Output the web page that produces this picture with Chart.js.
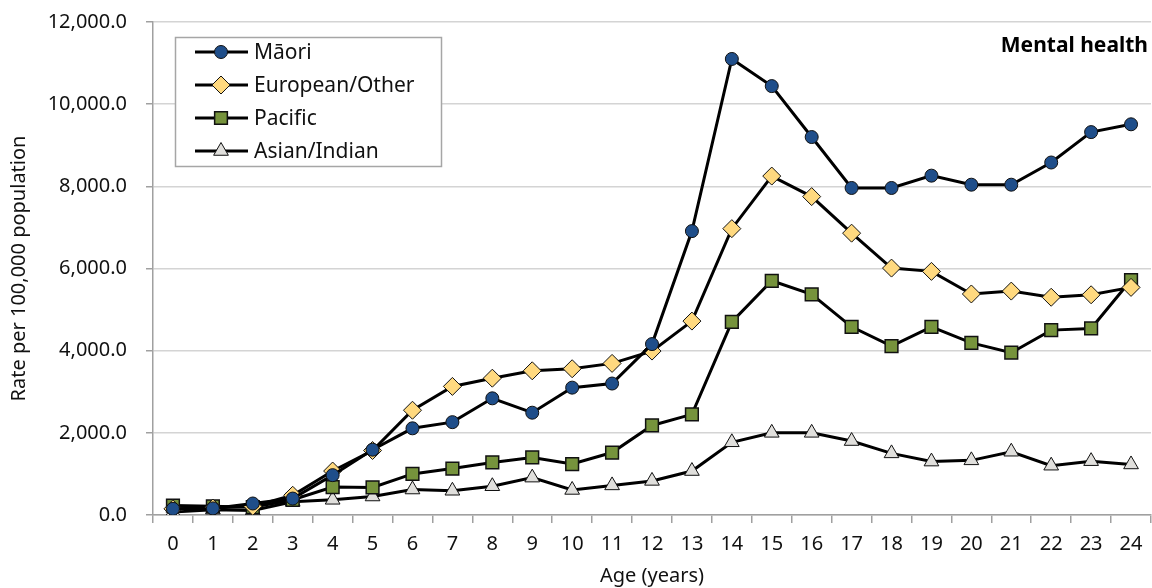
<!DOCTYPE html>
<html>
<head>
<meta charset="utf-8">
<script src="https://cdn.jsdelivr.net/npm/chart.js@4.4.1/dist/chart.umd.min.js"></script>
<style>
  html, body { margin: 0; padding: 0; background: #fff; }
  #wrap { width: 1152px; height: 588px; position: relative; }
</style>
</head>
<body>
<div id="wrap"><canvas id="mentalChart" width="1152" height="588"></canvas></div>
<script>
// ages along the x axis
const ages = ['0','1','2','3','4','5','6','7','8','9','10','11','12','13','14','15','16','17','18','19','20','21','22','23','24'];

// rates per 100,000 population
const maori    = [150, 160, 280, 400, 970, 1590, 2110, 2260, 2840, 2490, 3100, 3200, 4160, 6910, 11100, 10440, 9200, 7960, 7960, 8260, 8040, 8040, 8580, 9320, 9510];
const european = [150, 170, 210, 480, 1070, 1570, 2550, 3130, 3330, 3510, 3560, 3690, 3990, 4720, 6970, 8250, 7750, 6860, 6010, 5930, 5380, 5450, 5300, 5360, 5540];
const pacific  = [230, 210, 190, 370, 680, 670, 1000, 1130, 1280, 1400, 1240, 1520, 2180, 2450, 4700, 5700, 5370, 4580, 4110, 4580, 4190, 3950, 4500, 4540, 5720];
const asian    = [70, 130, 110, 320, 370, 450, 620, 590, 700, 910, 610, 720, 830, 1070, 1770, 2000, 2000, 1800, 1500, 1300, 1330, 1540, 1200, 1310, 1230];

const yTicks = [0, 2000, 4000, 6000, 8000, 10000, 12000];

const fontFamily = "'Noto Sans', 'Open Sans', sans-serif";

const datasets = [
    {
        label: 'Māori',
        data: maori,
        borderColor: '#000',
        borderWidth: 3,
        pointStyle: 'circle',
        pointRadius: 6.5,
        pointBackgroundColor: '#1f4e8a',
        pointBorderColor: '#111',
        pointBorderWidth: 1,
        tension: 0
    }, {
        label: 'European/Other',
        data: european,
        borderColor: '#000',
        borderWidth: 3,
        pointStyle: 'rectRot',
        pointRadius: 9,
        pointBackgroundColor: '#ffd97f',
        pointBorderColor: '#111',
        pointBorderWidth: 1,
        tension: 0
    }, {
        label: 'Pacific',
        data: pacific,
        borderColor: '#000',
        borderWidth: 3,
        pointStyle: 'rect',
        pointRadius: 9,
        pointBackgroundColor: '#76933c',
        pointBorderColor: '#111',
        pointBorderWidth: 1.5,
        tension: 0
    }, {
        label: 'Asian/Indian',
        data: asian,
        borderColor: '#000',
        borderWidth: 3,
        pointStyle: 'triangle',
        pointRadius: 8.5,
        pointBackgroundColor: '#e0dfdc',
        pointBorderColor: '#111',
        pointBorderWidth: 1,
        tension: 0
    }
];

// legend box inside the plot, and the panel title at top right
const boxLegend = {
    id: 'boxLegend',
    afterDraw(chart) {
        const ctx = chart.ctx;
        const area = chart.chartArea;
        ctx.save();
        // legend frame
        const bx = 175.5, by = 37.5, bw = 266, bh = 129;
        ctx.fillStyle = '#fff';
        ctx.fillRect(bx, by, bw, bh);
        ctx.strokeStyle = '#a6a6a6';
        ctx.lineWidth = 1.5;
        ctx.strokeRect(bx, by, bw, bh);

        ctx.font = '21px ' + fontFamily;
        ctx.textBaseline = 'middle';
        chart.data.datasets.forEach((ds, i) => {
            const y = 52 + i * 33;
            ctx.strokeStyle = '#000';
            ctx.lineWidth = 3;
            ctx.beginPath();
            ctx.moveTo(195, y);
            ctx.lineTo(248, y);
            ctx.stroke();
            if (Chart.helpers && Chart.helpers.drawPoint) {
                ctx.fillStyle = ds.pointBackgroundColor;
                ctx.strokeStyle = ds.pointBorderColor;
                ctx.lineWidth = ds.pointBorderWidth;
                Chart.helpers.drawPoint(ctx, {
                    pointStyle: ds.pointStyle,
                    radius: ds.pointRadius,
                    rotation: 0,
                    borderWidth: ds.pointBorderWidth
                }, 221, y);
            }
            ctx.fillStyle = '#111';
            ctx.textAlign = 'left';
            ctx.fillText(ds.label, 254, y + 1);
        });

        // panel title
        ctx.font = 'bold 21px ' + fontFamily;
        ctx.textAlign = 'right';
        ctx.fillStyle = '#000';
        ctx.fillText('Mental health', area.right - 3, 46);
        ctx.restore();
    }
};

const ctx = document.getElementById('mentalChart').getContext('2d');

currentGraph = new Chart(ctx, {
    type: 'line',
    data: {
        labels: ages,
        datasets: datasets
    },
    options: {
        responsive: false,
        animation: false,
        layout: {
            autoPadding: false,
            padding: { top: 22, right: 1, left: 0, bottom: 0 }
        },
        plugins: {
            legend: { display: false },
            title: { display: false },
            tooltip: { enabled: false }
        },
        scales: {
            x: {
                offset: true,
                grid: {
                    offset: true,
                    drawOnChartArea: false,
                    drawTicks: true,
                    tickLength: 8,
                    color: '#a0a0a0',
                    lineWidth: 1.5
                },
                border: { color: '#a0a0a0', width: 1.5 },
                ticks: {
                    color: '#111',
                    autoSkip: false,
                    maxRotation: 0,
                    padding: 9,
                    font: { size: 20, family: fontFamily }
                },
                title: {
                    display: true,
                    text: 'Age (years)',
                    color: '#111',
                    padding: { top: 0, bottom: 0 },
                    font: { size: 20, family: fontFamily }
                },
                afterFit: (scale) => {
                    scale.height = 73;
                    scale.paddingLeft = 0;
                    scale.paddingRight = 0;
                }
            },
            y: {
                min: 0,
                max: 12000,
                afterBuildTicks: (scale) => { scale.ticks = yTicks.map(v => ({ value: v })); },
                grid: {
                    color: '#d4d4d4',
                    lineWidth: 1.5,
                    drawTicks: true,
                    tickLength: 7,
                    tickColor: '#a0a0a0'
                },
                border: { color: '#a0a0a0', width: 1.5 },
                ticks: {
                    color: '#111',
                    padding: 19,
                    font: { size: 20, family: fontFamily },
                    callback: function (value) {
                        return value.toLocaleString('en-US', { minimumFractionDigits: 1, maximumFractionDigits: 1 });
                    }
                },
                title: {
                    display: true,
                    text: 'Rate per 100,000 population',
                    color: '#111',
                    padding: { top: 7, bottom: 0 },
                    font: { size: 20, family: fontFamily }
                },
                afterFit: (scale) => {
                    scale.width = 153;
                    scale.paddingTop = 0;
                    scale.paddingBottom = 0;
                }
            }
        }
    },
    plugins: [boxLegend]
});
</script>
</body>
</html>
